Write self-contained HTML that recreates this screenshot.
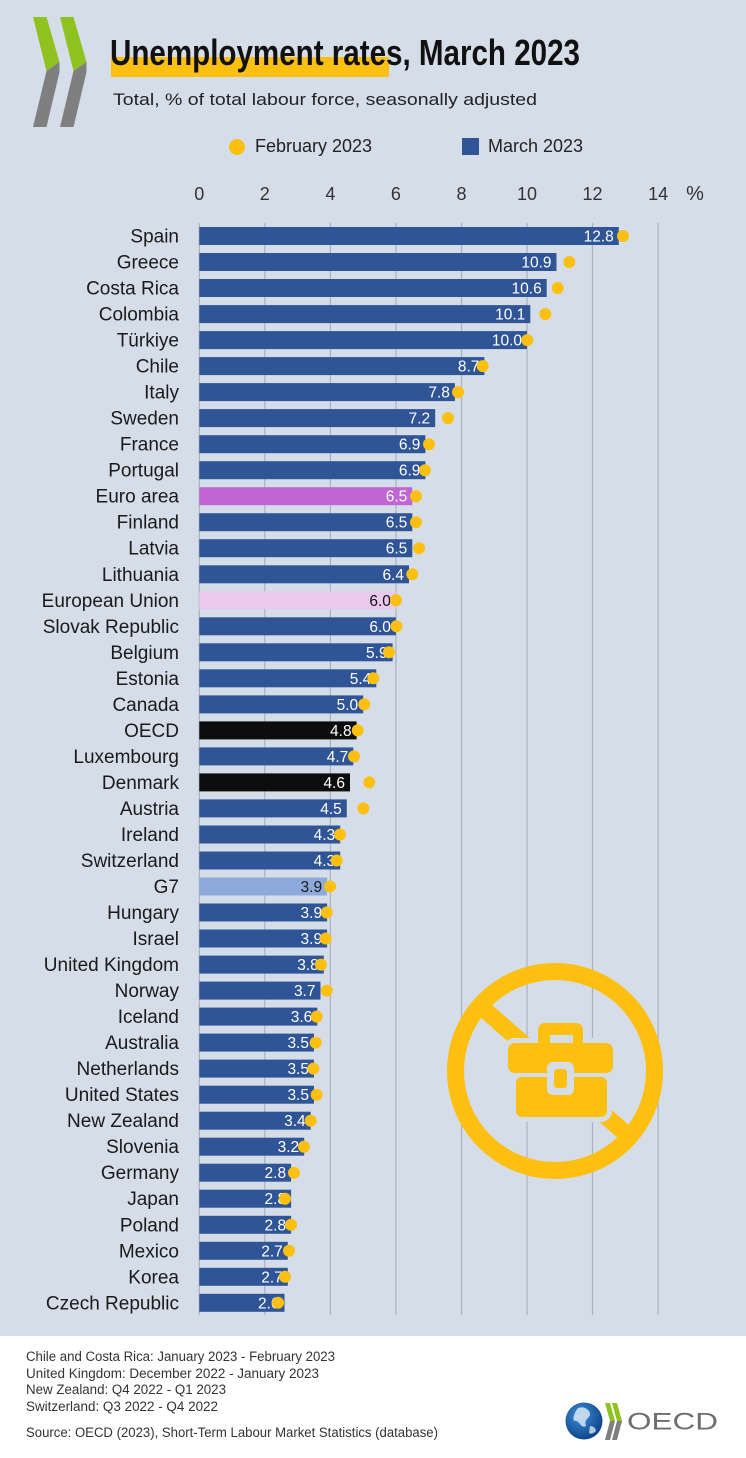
<!DOCTYPE html>
<html><head><meta charset="utf-8"><style>
html,body{margin:0;padding:0;background:#d5dde9;}
svg{display:block;}
text{font-family:"Liberation Sans",sans-serif;}
</style></head><body>
<svg width="746" height="1458" viewBox="0 0 746 1458" xmlns="http://www.w3.org/2000/svg">
<rect x="0" y="0" width="746" height="1458" fill="#d5dde9"/>
<!-- top-left chevrons -->
<polygon points="33,17 46.5,17 59.5,62 46.5,71" fill="#8dc21f"/>
<polygon points="46.5,71 59.5,62 59.5,72 46.5,127 33,127" fill="#7f7f7f"/>
<polygon points="60,17 73.5,17 86.5,62 73.5,71" fill="#8dc21f"/>
<polygon points="73.5,71 86.5,62 86.5,72 73.5,127 60,127" fill="#7f7f7f"/>
<!-- title -->
<rect x="111" y="57" width="278" height="20" fill="#fdc010"/>
<text x="110" y="65" font-size="36" font-weight="bold" fill="#111" textLength="470" lengthAdjust="spacingAndGlyphs">Unemployment rates, March 2023</text>
<text x="113" y="105" font-size="17" fill="#222" textLength="424" lengthAdjust="spacingAndGlyphs">Total, % of total labour force, seasonally adjusted</text>
<!-- legend -->
<circle cx="237" cy="147" r="8" fill="#fdc010"/>
<text x="255" y="152" font-size="18" fill="#222">February 2023</text>
<rect x="462" y="138" width="17" height="17" fill="#2f5597"/>
<text x="488" y="152" font-size="18" fill="#222">March 2023</text>
<!-- axis labels -->
<g font-size="18" fill="#333" text-anchor="middle">
<text x="199.3" y="200">0</text>
<text x="264.8" y="200">2</text>
<text x="330.4" y="200">4</text>
<text x="395.9" y="200">6</text>
<text x="461.5" y="200">8</text>
<text x="527.0" y="200">10</text>
<text x="592.5" y="200">12</text>
<text x="658.1" y="200">14</text>
<text x="695" y="200" font-size="20">%</text>
</g>
<!-- grid -->
<g stroke="#a9b2c0" stroke-width="1.2">
<line x1="199.3" y1="223" x2="199.3" y2="1315"/>
<line x1="264.8" y1="223" x2="264.8" y2="1315"/>
<line x1="330.4" y1="223" x2="330.4" y2="1315"/>
<line x1="395.9" y1="223" x2="395.9" y2="1315"/>
<line x1="461.5" y1="223" x2="461.5" y2="1315"/>
<line x1="527.0" y1="223" x2="527.0" y2="1315"/>
<line x1="592.5" y1="223" x2="592.5" y2="1315"/>
<line x1="658.1" y1="223" x2="658.1" y2="1315"/>
</g>
<!-- icon -->
<g>
<circle cx="555" cy="1071" r="99.5" fill="none" stroke="#fdc010" stroke-width="17"/>
<line x1="485" y1="1010" x2="625" y2="1133" stroke="#fdc010" stroke-width="17"/>
<g stroke="#d5dde9" stroke-width="10" stroke-linejoin="round">
<rect x="538" y="1023" width="45" height="24" rx="7"/>
<rect x="508" y="1043" width="105" height="30" rx="7"/>
<rect x="516" y="1072" width="91" height="45" rx="6"/>
</g>
<rect x="538" y="1023" width="45" height="24" rx="7" fill="#fdc010"/>
<rect x="550" y="1035" width="23" height="10" fill="#d5dde9"/>
<rect x="508" y="1043" width="105" height="30" rx="7" fill="#fdc010"/>
<rect x="516" y="1077" width="91" height="40" rx="6" fill="#fdc010"/>
<rect x="547" y="1062" width="27" height="33" rx="6" fill="#d5dde9"/>
<rect x="554" y="1069" width="13" height="19" rx="3" fill="#fdc010"/>
</g>
<!-- bars -->
<g>
<rect x="199.3" y="227.0" width="419.5" height="18" fill="#2f5597"/>
<rect x="199.3" y="253.0" width="357.2" height="18" fill="#2f5597"/>
<rect x="199.3" y="279.0" width="347.4" height="18" fill="#2f5597"/>
<rect x="199.3" y="305.1" width="331.0" height="18" fill="#2f5597"/>
<rect x="199.3" y="331.1" width="327.7" height="18" fill="#2f5597"/>
<rect x="199.3" y="357.1" width="285.1" height="18" fill="#2f5597"/>
<rect x="199.3" y="383.1" width="255.6" height="18" fill="#2f5597"/>
<rect x="199.3" y="409.1" width="235.9" height="18" fill="#2f5597"/>
<rect x="199.3" y="435.2" width="226.1" height="18" fill="#2f5597"/>
<rect x="199.3" y="461.2" width="226.1" height="18" fill="#2f5597"/>
<rect x="199.3" y="487.2" width="213.0" height="18" fill="#c066d4"/>
<rect x="199.3" y="513.2" width="213.0" height="18" fill="#2f5597"/>
<rect x="199.3" y="539.2" width="213.0" height="18" fill="#2f5597"/>
<rect x="199.3" y="565.3" width="209.7" height="18" fill="#2f5597"/>
<rect x="199.3" y="591.3" width="196.6" height="18" fill="#ebc9ef"/>
<rect x="199.3" y="617.3" width="196.6" height="18" fill="#2f5597"/>
<rect x="199.3" y="643.3" width="193.3" height="18" fill="#2f5597"/>
<rect x="199.3" y="669.3" width="177.0" height="18" fill="#2f5597"/>
<rect x="199.3" y="695.4" width="163.9" height="18" fill="#2f5597"/>
<rect x="199.3" y="721.4" width="157.3" height="18" fill="#0d0d0d"/>
<rect x="199.3" y="747.4" width="154.0" height="18" fill="#2f5597"/>
<rect x="199.3" y="773.4" width="150.7" height="18" fill="#0d0d0d"/>
<rect x="199.3" y="799.4" width="147.5" height="18" fill="#2f5597"/>
<rect x="199.3" y="825.5" width="140.9" height="18" fill="#2f5597"/>
<rect x="199.3" y="851.5" width="140.9" height="18" fill="#2f5597"/>
<rect x="199.3" y="877.5" width="127.8" height="18" fill="#8eaadb"/>
<rect x="199.3" y="903.5" width="127.8" height="18" fill="#2f5597"/>
<rect x="199.3" y="929.5" width="127.8" height="18" fill="#2f5597"/>
<rect x="199.3" y="955.6" width="124.5" height="18" fill="#2f5597"/>
<rect x="199.3" y="981.6" width="121.2" height="18" fill="#2f5597"/>
<rect x="199.3" y="1007.6" width="118.0" height="18" fill="#2f5597"/>
<rect x="199.3" y="1033.6" width="114.7" height="18" fill="#2f5597"/>
<rect x="199.3" y="1059.6" width="114.7" height="18" fill="#2f5597"/>
<rect x="199.3" y="1085.7" width="114.7" height="18" fill="#2f5597"/>
<rect x="199.3" y="1111.7" width="111.4" height="18" fill="#2f5597"/>
<rect x="199.3" y="1137.7" width="104.9" height="18" fill="#2f5597"/>
<rect x="199.3" y="1163.7" width="91.8" height="18" fill="#2f5597"/>
<rect x="199.3" y="1189.7" width="91.8" height="18" fill="#2f5597"/>
<rect x="199.3" y="1215.8" width="91.8" height="18" fill="#2f5597"/>
<rect x="199.3" y="1241.8" width="88.5" height="18" fill="#2f5597"/>
<rect x="199.3" y="1267.8" width="88.5" height="18" fill="#2f5597"/>
<rect x="199.3" y="1293.8" width="85.2" height="18" fill="#2f5597"/>
</g>
<!-- country labels -->
<g font-size="19" fill="#1a1a1a" text-anchor="end">
<text x="179" y="242.5">Spain</text>
<text x="179" y="268.5">Greece</text>
<text x="179" y="294.5">Costa Rica</text>
<text x="179" y="320.6">Colombia</text>
<text x="179" y="346.6">Türkiye</text>
<text x="179" y="372.6">Chile</text>
<text x="179" y="398.6">Italy</text>
<text x="179" y="424.6">Sweden</text>
<text x="179" y="450.7">France</text>
<text x="179" y="476.7">Portugal</text>
<text x="179" y="502.7">Euro area</text>
<text x="179" y="528.7">Finland</text>
<text x="179" y="554.7">Latvia</text>
<text x="179" y="580.8">Lithuania</text>
<text x="179" y="606.8">European Union</text>
<text x="179" y="632.8">Slovak Republic</text>
<text x="179" y="658.8">Belgium</text>
<text x="179" y="684.8">Estonia</text>
<text x="179" y="710.9">Canada</text>
<text x="179" y="736.9">OECD</text>
<text x="179" y="762.9">Luxembourg</text>
<text x="179" y="788.9">Denmark</text>
<text x="179" y="814.9">Austria</text>
<text x="179" y="841.0">Ireland</text>
<text x="179" y="867.0">Switzerland</text>
<text x="179" y="893.0">G7</text>
<text x="179" y="919.0">Hungary</text>
<text x="179" y="945.0">Israel</text>
<text x="179" y="971.1">United Kingdom</text>
<text x="179" y="997.1">Norway</text>
<text x="179" y="1023.1">Iceland</text>
<text x="179" y="1049.1">Australia</text>
<text x="179" y="1075.1">Netherlands</text>
<text x="179" y="1101.2">United States</text>
<text x="179" y="1127.2">New Zealand</text>
<text x="179" y="1153.2">Slovenia</text>
<text x="179" y="1179.2">Germany</text>
<text x="179" y="1205.2">Japan</text>
<text x="179" y="1231.3">Poland</text>
<text x="179" y="1257.3">Mexico</text>
<text x="179" y="1283.3">Korea</text>
<text x="179" y="1309.3">Czech Republic</text>
</g>
<!-- value labels -->
<g font-size="15.5" fill="#ffffff" text-anchor="end">
<text x="613.8" y="241.5">12.8</text>
<text x="551.5" y="267.5">10.9</text>
<text x="541.7" y="293.5">10.6</text>
<text x="525.3" y="319.6">10.1</text>
<text x="522.0" y="345.6">10.0</text>
<text x="479.4" y="371.6">8.7</text>
<text x="449.9" y="397.6">7.8</text>
<text x="430.2" y="423.6">7.2</text>
<text x="420.4" y="449.7">6.9</text>
<text x="420.4" y="475.7">6.9</text>
<text x="407.3" y="501.7">6.5</text>
<text x="407.3" y="527.7">6.5</text>
<text x="407.3" y="553.7">6.5</text>
<text x="404.0" y="579.8">6.4</text>
<text x="390.9" y="605.8" fill="#111">6.0</text>
<text x="390.9" y="631.8">6.0</text>
<text x="387.6" y="657.8">5.9</text>
<text x="371.3" y="683.8">5.4</text>
<text x="358.2" y="709.9">5.0</text>
<text x="351.6" y="735.9">4.8</text>
<text x="348.3" y="761.9">4.7</text>
<text x="345.0" y="787.9">4.6</text>
<text x="341.8" y="813.9">4.5</text>
<text x="335.2" y="840.0">4.3</text>
<text x="335.2" y="866.0">4.3</text>
<text x="322.1" y="892.0" fill="#1a1a1a">3.9</text>
<text x="322.1" y="918.0">3.9</text>
<text x="322.1" y="944.0">3.9</text>
<text x="318.8" y="970.1">3.8</text>
<text x="315.5" y="996.1">3.7</text>
<text x="312.3" y="1022.1">3.6</text>
<text x="309.0" y="1048.1">3.5</text>
<text x="309.0" y="1074.1">3.5</text>
<text x="309.0" y="1100.2">3.5</text>
<text x="305.7" y="1126.2">3.4</text>
<text x="299.2" y="1152.2">3.2</text>
<text x="286.1" y="1178.2">2.8</text>
<text x="286.1" y="1204.2">2.8</text>
<text x="286.1" y="1230.3">2.8</text>
<text x="282.8" y="1256.3">2.7</text>
<text x="282.8" y="1282.3">2.7</text>
<text x="279.5" y="1308.3">2.6</text>
</g>
<!-- February dots -->
<g fill="#fdc010">
<circle cx="623.0" cy="236.0" r="6"/>
<circle cx="569.3" cy="262.0" r="6"/>
<circle cx="557.7" cy="288.0" r="6"/>
<circle cx="545.3" cy="314.1" r="6"/>
<circle cx="527.3" cy="340.1" r="6"/>
<circle cx="482.7" cy="366.1" r="6"/>
<circle cx="458.0" cy="392.1" r="6"/>
<circle cx="448.0" cy="418.1" r="6"/>
<circle cx="429.0" cy="444.2" r="6"/>
<circle cx="425.0" cy="470.2" r="6"/>
<circle cx="416.0" cy="496.2" r="6"/>
<circle cx="416.0" cy="522.2" r="6"/>
<circle cx="419.0" cy="548.2" r="6"/>
<circle cx="412.3" cy="574.3" r="6"/>
<circle cx="396.0" cy="600.3" r="6"/>
<circle cx="396.5" cy="626.3" r="6"/>
<circle cx="389.0" cy="652.3" r="6"/>
<circle cx="373.3" cy="678.3" r="6"/>
<circle cx="364.3" cy="704.4" r="6"/>
<circle cx="357.7" cy="730.4" r="6"/>
<circle cx="354.0" cy="756.4" r="6"/>
<circle cx="369.3" cy="782.4" r="6"/>
<circle cx="363.3" cy="808.4" r="6"/>
<circle cx="340.0" cy="834.5" r="6"/>
<circle cx="336.7" cy="860.5" r="6"/>
<circle cx="330.0" cy="886.5" r="6"/>
<circle cx="326.7" cy="912.5" r="6"/>
<circle cx="325.7" cy="938.5" r="6"/>
<circle cx="321.0" cy="964.6" r="6"/>
<circle cx="326.7" cy="990.6" r="6"/>
<circle cx="316.7" cy="1016.6" r="6"/>
<circle cx="315.7" cy="1042.6" r="6"/>
<circle cx="313.3" cy="1068.6" r="6"/>
<circle cx="316.7" cy="1094.7" r="6"/>
<circle cx="310.7" cy="1120.7" r="6"/>
<circle cx="304.0" cy="1146.7" r="6"/>
<circle cx="294.0" cy="1172.7" r="6"/>
<circle cx="285.0" cy="1198.7" r="6"/>
<circle cx="291.0" cy="1224.8" r="6"/>
<circle cx="289.0" cy="1250.8" r="6"/>
<circle cx="285.0" cy="1276.8" r="6"/>
<circle cx="278.0" cy="1302.8" r="6"/>
</g>
<!-- footer -->
<rect x="0" y="1336" width="746" height="122" fill="#ffffff"/>
<g font-size="13.5" fill="#333">
<text x="26" y="1361" textLength="309" lengthAdjust="spacingAndGlyphs">Chile and Costa Rica: January 2023 - February 2023</text>
<text x="26" y="1378" textLength="293" lengthAdjust="spacingAndGlyphs">United Kingdom: December 2022 - January 2023</text>
<text x="26" y="1394" textLength="200" lengthAdjust="spacingAndGlyphs">New Zealand: Q4 2022 - Q1 2023</text>
<text x="26" y="1411" textLength="192" lengthAdjust="spacingAndGlyphs">Switzerland: Q3 2022 - Q4 2022</text>
<text x="26" y="1437" textLength="412" lengthAdjust="spacingAndGlyphs">Source: OECD (2023), Short-Term Labour Market Statistics (database)</text>
</g>
<!-- OECD logo -->
<defs>
<radialGradient id="gl" cx="40%" cy="35%" r="70%">
<stop offset="0" stop-color="#3f8fd6"/>
<stop offset="1" stop-color="#0b3f86"/>
</radialGradient>
</defs>
<circle cx="584" cy="1421" r="18.5" fill="url(#gl)"/>
<path d="M578 1408 q6 -2 10 2 q4 4 0 8 q-4 3 -2 8 q-3 2 -6 -2 q-3 -4 -6 -3 q-2 -5 4 -13z" fill="#d8e6f3" opacity="0.85"/>
<path d="M590 1426 q5 0 6 5 q-4 4 -7 2z" fill="#d8e6f3" opacity="0.8"/>
<polygon points="605,1403 610,1403 615,1421 610,1421" fill="#8dc21f"/>
<polygon points="610,1421 615,1421 610,1440 605,1440" fill="#7f7f7f"/>
<polygon points="612,1403 617,1403 622,1421 617,1421" fill="#8dc21f"/>
<polygon points="617,1421 622,1421 617,1440 612,1440" fill="#7f7f7f"/>
<text x="627" y="1429.5" font-size="24" fill="#6d6e71" textLength="91" lengthAdjust="spacingAndGlyphs">OECD</text>
</svg>
</body></html>
